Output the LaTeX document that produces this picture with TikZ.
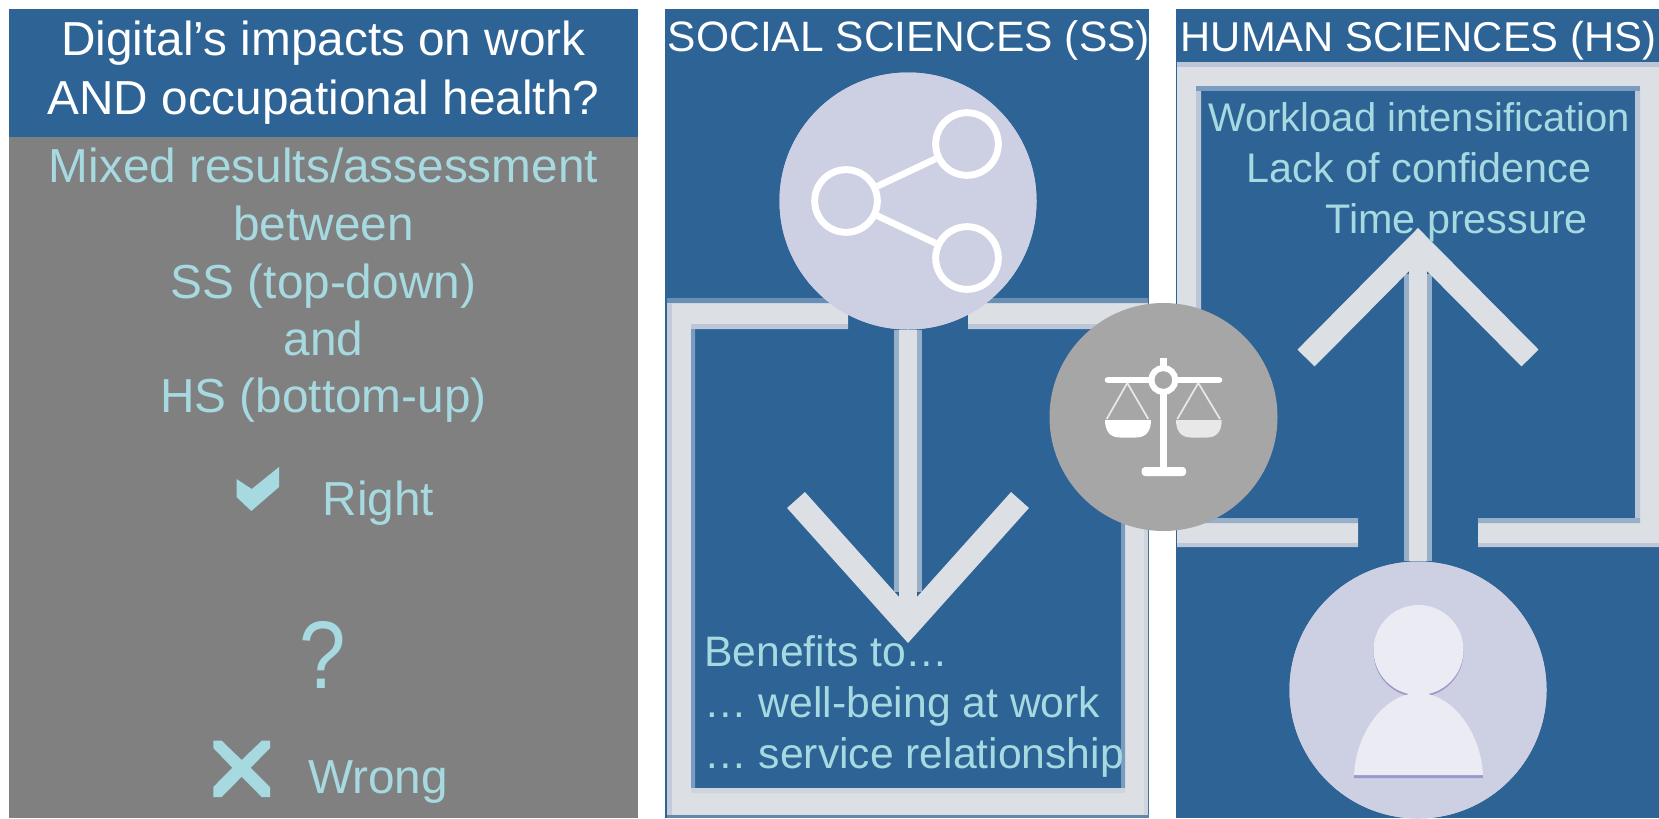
\documentclass[tikz,border=0pt]{standalone}
\usepackage{fontspec}
\setmainfont{Liberation Sans}
\definecolor{panelblue}{HTML}{2D6395}
\definecolor{panelgrey}{HTML}{808080}
\definecolor{tealtext}{HTML}{A6D9E0}
\definecolor{band}{HTML}{DCDFE4}
\definecolor{shadeA}{HTML}{6A8FB5}
\definecolor{shadeB}{HTML}{BCC6D6}
\definecolor{shadeC}{HTML}{C3CAD9}
\definecolor{shadeD}{HTML}{7B9CC0}
\definecolor{shadeE}{HTML}{D0D4DC}
\definecolor{shaft}{HTML}{97AFC9}
\definecolor{disc}{HTML}{CDCFE3}
\definecolor{person}{HTML}{EBEBF4}
\definecolor{personshade}{HTML}{9C98C9}
\definecolor{discgrey}{HTML}{A6A6A6}
\definecolor{panright}{HTML}{E8E8E8}
\tikzset{
  txtL/.style={anchor=base,inner sep=0pt,text=tealtext,font=\fontsize{35.8}{36}\selectfont},
  txtM/.style={anchor=base west,inner sep=0pt,text=tealtext,font=\fontsize{32}{32}\selectfont},
  txtN/.style={anchor=base,inner sep=0pt,text=tealtext,font=\fontsize{31}{31}\selectfont},
  txtH/.style={anchor=base,inner sep=0pt,text=white,font=\fontsize{35.8}{36}\selectfont},
  txtS/.style={anchor=base,inner sep=0pt,text=white,font=\fontsize{31.9}{32}\selectfont},
  bigdisc/.style={circle,fill=disc,draw=none,inner sep=0pt,minimum size=192.75pt},
  scaledisc/.style={circle,fill=discgrey,draw=none,inner sep=0pt,minimum size=171pt},
  ring/.style={circle,draw=white,line width=5.2pt,inner sep=0pt,minimum size=47pt},
  arrowline/.style={draw=band,line width=18pt,line join=miter,miter limit=10},
  shaftedge/.style={draw=shaft,line width=21pt},
  shaftcore/.style={draw=band,line width=13.5pt},
  scaleline/.style={draw=white,line cap=round},
  stringline/.style={draw=panright,line width=1.3pt}
}
\begin{document}
\begin{tikzpicture}[x=0.75pt,y=-0.75pt]
\useasboundingbox (0,0) rectangle (1659,818);
\fill[white] (0,0) rectangle (1659,818);
% left panel
\fill[panelblue] (9,9) rectangle (638,137);
\fill[panelgrey] (9,137) rectangle (638,818);
\node[txtH] (h1) at (323.5,55) {Digital’s impacts on work};
\node[txtH] (h2) at (323.5,114) {AND occupational health?};
\node[txtL] (g1) at (323.5,182) {Mixed results/assessment};
\node[txtL] (g2) at (323.5,240) {between};
\node[txtL] (g3) at (323.5,298) {SS (top-down)};
\node[txtL] (g4) at (323.5,355) {and};
\node[txtL] (g5) at (323.5,412) {HS (bottom-up)};
\fill[tealtext] (236.5,479) -- (251.7,489) -- (279,467) -- (279,487) -- (251.3,511) -- (236.5,497) -- cycle;
\node[txtL,anchor=base west] (right) at (322.5,515) {Right};
\node[inner sep=0pt,anchor=base,text=tealtext,font=\fontsize{72}{72}\selectfont] (q) at (323,688) {\scalebox{0.87}[1]{?}};
\fill[tealtext] (213.3,740.7) -- (221.7,740.7) -- (241.7,760) -- (261.7,740.7) -- (270,740.7) -- (270,748) -- (250.7,767.7) -- (270,787) -- (270,797) -- (261.7,797) -- (241.7,776.7) -- (221.7,797) -- (213.3,797) -- (213.3,787) -- (232.3,767.7) -- (213.3,748) -- cycle;
\node[txtL,anchor=base west] (wrong) at (308,793) {Wrong};
% SS panel
\fill[panelblue] (665,9) rectangle (1149,818);
\fill[band] (672,303) -- (848,303) -- (848,324) -- (691,324) -- (691,793) -- (1125,793) -- (1125,324) -- (968,324) -- (968,303) -- (1144,303) -- (1144,815) -- (672,815) -- cycle;
\fill[shadeA] (667,298) rectangle (848,303) (968,298) rectangle (1148,303);
\fill[shadeB] (691,324) rectangle (848,329) (968,324) rectangle (1125,329);
\fill[shadeC] (667,303) rectangle (672,815);
\fill[shadeD] (691,329) rectangle (695,788) (1121,329) rectangle (1125,788);
\fill[shadeE] (691,788) rectangle (1125,793) (1144,303) rectangle (1148,815);
\fill[panelblue!70!band] (667,815) rectangle (1149,818);
\node[bigdisc] (ssdisc) at (908,201) {};
\coordinate (sstip) at (908,625);
\coordinate (ssL) at (796,500);
\coordinate (ssR) at (1020,500);
\coordinate (ssedge) at (908,592);
\draw[shaftedge] (ssdisc.south) -- (ssedge);
\draw[shaftcore] (ssdisc.south) -- (sstip);
\draw[arrowline] (ssL) -- (sstip) -- (ssR);
\node[bigdisc] at (908,201) {};
\node[ring] (n1) at (846,201) {};
\node[ring] (n2) at (967,144) {};
\node[ring] (n3) at (967,258) {};
\draw[white,line width=5pt] (n1) -- (n2) (n1) -- (n3);
\node[txtS] (sshead) at (909,51) {SOCIAL SCIENCES (SS)};
\node[txtM] (b1) at (704,666) {Benefits to…};
\node[txtM] (b2) at (704,717) {… well-being at work};
\node[txtM] (b3) at (704,768) {… service relationship};
% HS panel
\fill[panelblue] (1176,9) rectangle (1659,818);
\fill[band] (1358,523) -- (1196,523) -- (1196,86) -- (1640,86) -- (1640,523) -- (1478,523) -- (1478,543) -- (1659,543) -- (1659,67) -- (1177,67) -- (1177,543) -- (1358,543) -- cycle;
\fill[panelblue] (1201,91) rectangle (1635,518);
\fill[shadeB] (1177,62) rectangle (1659,67);
\fill[shadeD] (1196,86) rectangle (1640,91);
\fill[shadeB] (1196,91) rectangle (1201,518) (1635,91) rectangle (1640,518);
\fill[shaft] (1196,518) rectangle (1358,523) (1478,518) rectangle (1640,523);
\fill[shadeB] (1177,543) rectangle (1358,547) (1478,543) rectangle (1659,547);
\node[bigdisc] (hsdisc) at (1418,690) {};
\coordinate (hstip) at (1418,245);
\coordinate (hsL) at (1306,358);
\coordinate (hsR) at (1530,358);
\coordinate (hsedge) at (1418,274);
\draw[shaftedge] (hsdisc.north) -- (hsedge);
\draw[shaftcore] (hsdisc.north) -- (hstip);
\draw[arrowline] (hsL) -- (hstip) -- (hsR);
\node[bigdisc] at (1418,690) {};
\fill[personshade] (1418.5,652) circle[radius=45];
\fill[person] (1418.5,650) circle[radius=45];
\fill[personshade] (1354,778) .. controls (1356,735) and (1385,695) .. (1418.5,695) .. controls (1452,695) and (1481,735) .. (1483,778) -- cycle;
\fill[person] (1354,775) .. controls (1356,732) and (1385,693) .. (1418.5,693) .. controls (1452,693) and (1481,732) .. (1483,775) -- cycle;
\node[txtS,font=\fontsize{31.3}{32}\selectfont] (hshead) at (1418.5,51) {HUMAN SCIENCES (HS)};
\node[txtN,font=\fontsize{30}{30}\selectfont] (w1) at (1419,131) {Workload intensification};
\node[txtN] (w2) at (1419,182) {Lack of confidence};
\node[txtN,anchor=base west] (w3) at (1325,233) {Time pressure};
% balance disc
\node[scaledisc] (bal) at (1163.5,417) {};
\draw[scaleline,line width=5pt] (1108,380) -- (1219,380);
\draw[white,line width=5.6pt] (1163.3,358) -- (1163.3,470);
\fill[white,rounded corners=2.5pt] (1141.7,467) rectangle (1186,476);
\draw[stringline] (1127.3,383) -- (1106.7,419) (1127.3,383) -- (1148.3,419);
\draw[stringline] (1198.3,383) -- (1177.3,419) (1198.3,383) -- (1220,419);
\fill[white] (1105,420) -- (1151,420) .. controls (1151,431) and (1146,437.5) .. (1136,437.5) -- (1120,437.5) .. controls (1110,437.5) and (1105,431) .. (1105,420) -- cycle;
\fill[panright] (1176,420) -- (1221.7,420) .. controls (1221.7,431) and (1217,437.5) .. (1207,437.5) -- (1191,437.5) .. controls (1181,437.5) and (1176,431) .. (1176,420) -- cycle;
\fill[discgrey] (1163.3,380) circle[radius=9];
\draw[white,line width=4.5pt] (1163.3,380) circle[radius=12];
\end{tikzpicture}
\end{document}
